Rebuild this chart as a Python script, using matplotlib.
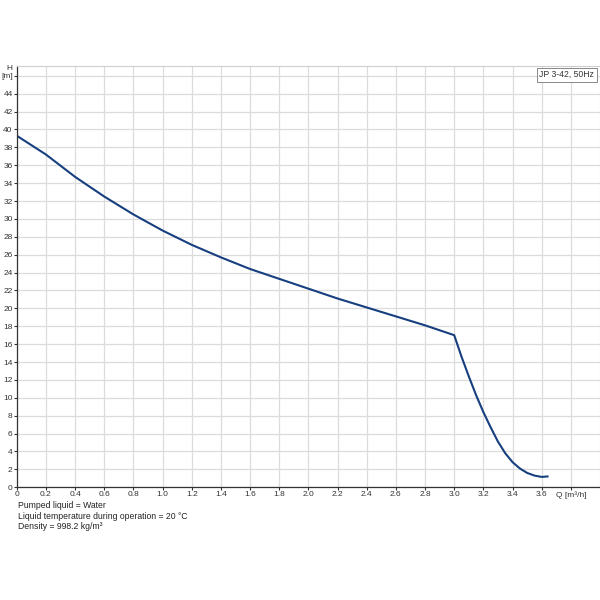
"""
Pump curve JP 3-42, 50Hz: head H against flow Q
"""
import matplotlib
matplotlib.use('Agg')
import matplotlib.pyplot as plt

# Curve
flow_q = [0.0, 0.2, 0.4, 0.6, 0.8, 1.0, 1.2, 1.4, 1.6, 1.8, 2.0, 2.2, 2.4,
          2.6, 2.8, 3.0, 3.05, 3.1, 3.15, 3.2, 3.25, 3.3, 3.35, 3.4, 3.45,
          3.5, 3.55, 3.6, 3.64]
head_h = [39.3, 37.2, 34.7, 32.5, 30.5, 28.7, 27.1, 25.7, 24.4, 23.3, 22.2,
          21.1, 20.1, 19.1, 18.1, 17.0, 14.6, 12.4, 10.3, 8.4, 6.7, 5.1, 3.8,
          2.8, 2.1, 1.6, 1.3, 1.15, 1.2]

x_ticks = [0, 0.2, 0.4, 0.6, 0.8, 1.0, 1.2, 1.4, 1.6, 1.8, 2.0, 2.2, 2.4,
           2.6, 2.8, 3.0, 3.2, 3.4, 3.6, 3.8]
x_labels = ['0', '0.2', '0.4', '0.6', '0.8', '1.0', '1.2', '1.4', '1.6',
            '1.8', '2.0', '2.2', '2.4', '2.6', '2.8', '3.0', '3.2', '3.4',
            '3.6', 'Q [m³/h]']
y_ticks = list(range(0, 48, 2))
y_labels = [str(v) for v in range(0, 46, 2)] + ['[m]']

info_lines = ['Pumped liquid = Water',
              'Liquid temperature during operation = 20 °C',
              'Density = 998.2 kg/m³']


def main():
    plt.rcParams['font.family'] = ['Arial', 'Liberation Sans', 'DejaVu Sans']
    fig = plt.figure(figsize=(6, 6), dpi=100)
    ax = fig.add_axes([0.028, 0.188, 0.972, 0.702])

    ax.plot(flow_q, head_h, color='#173f7f', lw=1.5, solid_joinstyle='round')

    ax.set_xlim(0, 4.0)
    ax.set_ylim(0, 47.1)
    ax.set_xticks(x_ticks)
    ax.set_xticklabels(x_labels)
    ax.set_yticks(y_ticks)
    ax.set_yticklabels(y_labels)
    ax.tick_params(labelsize=6, length=2, width=0.8, pad=1,
                   colors='#333333')
    ax.grid(True, color='#dcdcdc', lw=0.9)
    ax.set_axisbelow(True)

    for side in ['top', 'right']:
        ax.spines[side].set_color('#cfcfcf')
    for side in ['left', 'bottom']:
        ax.spines[side].set_color('#333333')
        ax.spines[side].set_linewidth(0.9)

    fig.text(9 / 600, 1 - 68 / 600, 'H', ha='center', va='center',
             fontsize=6, color='#333333')

    ax.text(0.99, 0.99, 'JP 3-42, 50Hz', transform=ax.transAxes,
            ha='right', va='top', fontsize=6.2, color='#333333',
            bbox=dict(boxstyle='square,pad=0.3', fc='white', ec='#888888',
                      lw=0.7))

    for i, line in enumerate(info_lines):
        fig.text(0.03, 0.157 - i * 0.0175, line, fontsize=6.2,
                 color='#222222', va='center')

    fig.savefig('out.png', dpi=100)


if __name__ == '__main__':
    main()
